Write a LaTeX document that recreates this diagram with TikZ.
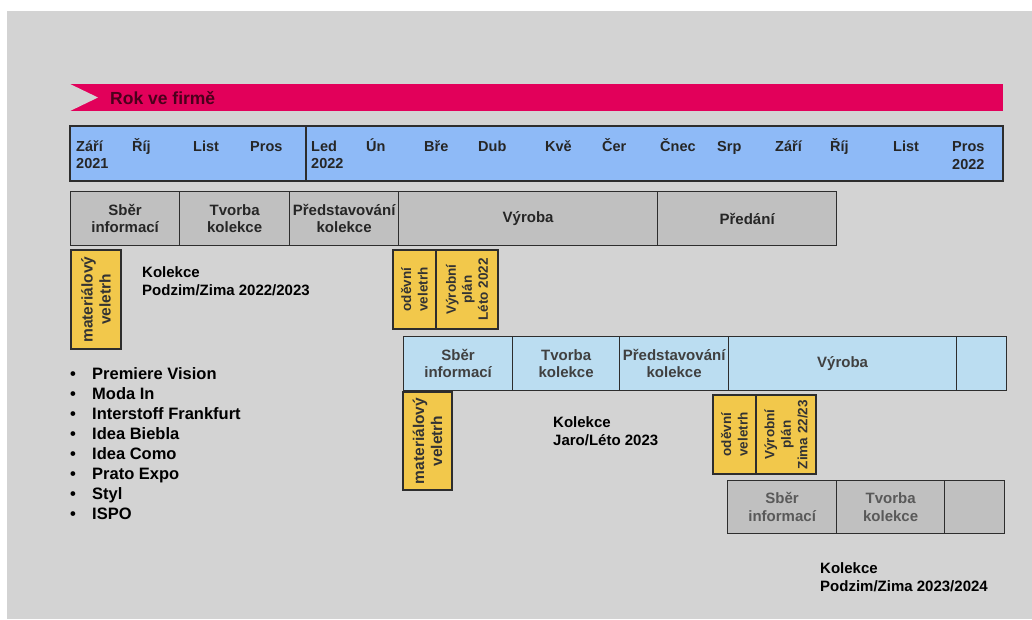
\documentclass[tikz,border=0pt]{standalone}
\usepackage{fontspec}
\setmainfont{Liberation Sans}
\usepackage{xcolor}
\usepackage{tikz}

\definecolor{paper}{RGB}{211,211,211}
\definecolor{bannerpink}{RGB}{226,0,90}
\definecolor{bannertext}{RGB}{75,0,28}
\definecolor{monthblue}{RGB}{142,186,247}
\definecolor{phasegray}{RGB}{192,192,192}
\definecolor{phaseblue}{RGB}{187,221,241}
\definecolor{fairyellow}{RGB}{242,200,75}
\definecolor{boxline}{RGB}{45,45,45}

\begin{document}
\begin{tikzpicture}[
  x=1pt,
  y=-1pt,
  monthbar/.style={draw=boxline, fill=monthblue, line width=1.2pt},
  month/.style={font=\fontsize{14.5}{17}\selectfont\bfseries, text=black!85, anchor=base west, inner sep=0pt},
  phase/.style={draw=boxline, line width=1.3pt, anchor=north west, inner sep=0pt, align=center, font=\fontsize{15}{17.5}\selectfont\bfseries},
  fair/.style={draw=boxline, fill=fairyellow, line width=1.1pt, rotate=90, inner sep=0pt, align=center, text=black!80},
  collection/.style={font=\fontsize{15}{18}\selectfont\bfseries, anchor=west, align=left, inner sep=0pt},
  listitem/.style={font=\fontsize{16.5}{20}\selectfont\bfseries, anchor=base west, inner sep=0pt}
]

% Page: white margin, gray sheet.
\fill[white] (0,0) rectangle (1032,619);
\fill[paper] (7,11) rectangle (1032,619);
\useasboundingbox (0,0) rectangle (1032,619);

% Title banner with the notch on the left.
\fill[bannerpink] (70,84) rectangle (1003,111);
\fill[paper] (70,84) -- (98,97.5) -- (70,111) -- cycle;
\node[font=\fontsize{17.5}{20}\selectfont\bfseries, text=bannertext, anchor=west, inner sep=0pt] (title) at (110,98) {Rok ve firmě};

% Month bar, split at the turn of the year.
\draw[monthbar] (70,126) rectangle (306,181);
\draw[monthbar] (306,126) rectangle (1003,181);
\foreach \xx/\lab [count=\i] in {76/Září,132/Říj,193/List,250/Pros,311/Led,366/Ún,424/Bře,478/Dub,545/Kvě,602/Čer,660/Čnec,717/Srp,775/Září,830/Říj,893/List,952/Pros} {
  \node[month] (m\i) at (\xx,151) {\lab};
}
\node[month] (y1) at (76,168) {2021};
\node[month] (y2) at (311,168) {2022};
\node[month] (y3) at (952,169) {2022};

% Collection autumn/winter 2022/2023: gray phases.
\foreach \xx/\ww/\lab [count=\i] in {70/109/{Sběr\\informací},179/110/{Tvorba\\kolekce},289/109/{Představování\\kolekce},398/259/{Výroba},657/179/{Předání}} {
  \node[phase, fill=phasegray, text=black!85, minimum width=\ww pt, minimum height=54pt] (pa\i) at (\xx,191) {\lab};
}
\node[fair, minimum width=99pt, minimum height=50pt, font=\fontsize{15.5}{18}\selectfont\bfseries] (fa1) at (96,299.5) {materiálový\\veletrh};
\node[collection] (ka) at (142,281) {Kolekce\\Podzim/Zima 2022/2023};
\node[fair, minimum width=79pt, minimum height=43pt, font=\fontsize{13.5}{16.5}\selectfont\bfseries] (fa2) at (414.5,289.5) {oděvní\\veletrh};
\node[fair, minimum width=79pt, minimum height=62pt, font=\fontsize{13.5}{16}\selectfont\bfseries] (fa3) at (467,289.5) {Výrobní\\plán\\Léto 2022};

% Collection spring/summer 2023: blue phases.
\foreach \xx/\ww/\lab [count=\i] in {403/109/{Sběr\\informací},512/107/{Tvorba\\kolekce},619/109/{Představování\\kolekce},728/228/{Výroba},956/50/{}} {
  \node[phase, fill=phaseblue, text=black!75, minimum width=\ww pt, minimum height=54pt] (pb\i) at (\xx,336) {\lab};
}
\node[fair, minimum width=98pt, minimum height=49pt, font=\fontsize{15.5}{18}\selectfont\bfseries] (fb1) at (427.5,441) {materiálový\\veletrh};
\node[collection] (kb) at (553,431) {Kolekce\\Jaro/Léto 2023};
\node[fair, minimum width=79pt, minimum height=43pt, font=\fontsize{13.5}{16.5}\selectfont\bfseries] (fb2) at (734.5,434.5) {oděvní\\veletrh};
\node[fair, minimum width=79pt, minimum height=60pt, font=\fontsize{13.5}{16.5}\selectfont\bfseries] (fb3) at (786,434.5) {Výrobní\\plán\\Zima 22/23};

% Collection autumn/winter 2023/2024: gray phases.
\foreach \xx/\ww/\lab [count=\i] in {727/109/{Sběr\\informací},836/108/{Tvorba\\kolekce},944/60/{}} {
  \node[phase, fill=phasegray, text=black!65, minimum width=\ww pt, minimum height=53pt] (pc\i) at (\xx,480) {\lab};
}
\node[collection] (kc) at (820,577) {Kolekce\\Podzim/Zima 2023/2024};

% Material fairs.
\foreach \lab [count=\i] in {Premiere Vision,Moda In,Interstoff Frankfurt,Idea Biebla,Idea Como,Prato Expo,Styl,ISPO} {
  \node[listitem, anchor=base] (dot\i) at (73,{359+20*\i}) {\textbullet};
  \node[listitem] (it\i) at (92,{359+20*\i}) {\lab};
}
\end{tikzpicture}
\end{document}
